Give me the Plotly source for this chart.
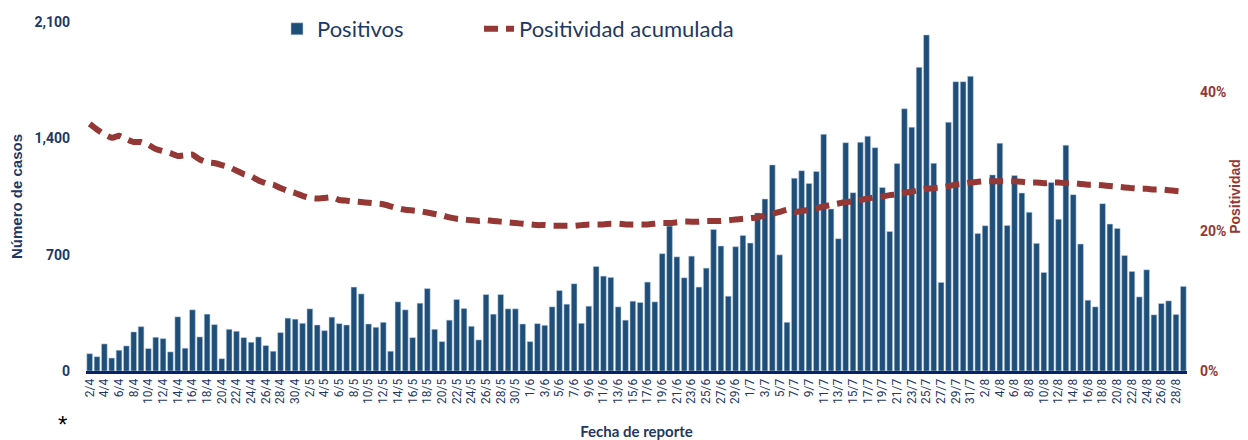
import pandas as pd
import plotly.graph_objects as go

# Dates (2/4 .. 29/8), daily
fechas = [f"{d.day}/{d.month}" for d in pd.date_range("2020-04-02", "2020-08-29", freq="D")]

positivos = [
    104, 86, 163, 78, 125, 151, 235, 267, 135, 203, 195, 115, 326, 137, 368, 205, 342, 279, 74, 251,
    239, 201, 173, 205, 153, 119, 231, 318, 312, 287, 374, 277, 243, 324, 285, 277, 505, 464,
    283, 263, 293, 119, 416, 368, 201, 408, 496, 251, 177, 306, 430, 376, 269, 187, 460, 342, 460, 374,
    374, 283, 177, 285, 275, 386, 484, 402, 525, 287, 390, 629, 571, 563, 386, 306,
    420, 412, 535, 416, 706, 872, 687, 561, 691, 505, 619, 852, 752, 450, 748, 816,
    770, 951, 1035, 1240, 699, 293, 1160, 1205, 1128, 1200, 1424, 975, 796, 1374, 1073, 1376, 1413, 1344, 1104, 840,
    1248, 1578, 1467, 1827, 2022, 1250, 533, 1497, 1741, 1741, 1773,
    828, 874, 1180, 1371, 876, 1176, 1071, 955, 768, 593, 1134, 913, 1359, 1061, 764, 426, 386, 1007, 884,
    858, 695, 599, 446, 609, 338, 406, 422, 340, 509,
]

positividad_pct = [
    35.4, 34.6, 33.9, 33.4, 33.7, 33.2, 32.8, 32.8, 32.4, 31.8, 31.5, 31.2, 30.8, 30.9, 31.0, 30.3, 29.9, 29.8, 29.5, 29.2,
    28.7, 28.2, 27.9, 27.3, 26.9, 26.7, 26.2, 25.8, 25.5, 25.1, 24.8, 24.7, 24.8, 24.9, 24.5, 24.4, 24.3, 24.2, 24.1, 24.0,
    23.9, 23.6, 23.3, 23.1, 23.0, 22.9, 22.7, 22.5, 22.3, 22.0, 21.8, 21.7, 21.6, 21.5, 21.6, 21.5, 21.4, 21.3, 21.2, 21.1,
    21.0, 20.9, 20.9, 20.8, 20.8, 20.8, 20.8, 20.9, 21.0, 21.0, 21.0, 21.1, 21.1, 21.0, 21.0, 21.0, 21.0, 21.1, 21.2, 21.2,
    21.3, 21.4, 21.4, 21.4, 21.5, 21.5, 21.5, 21.6, 21.7, 21.8, 21.9, 22.0, 22.3, 22.5, 22.8, 23.1, 22.8, 22.9, 23.1, 23.3,
    23.6, 23.8, 24.0, 24.2, 24.3, 24.5, 24.7, 24.9, 25.0, 25.2, 25.3, 25.5, 25.7, 25.9, 26.1, 26.2, 26.3, 26.5, 26.7, 26.8,
    27.0, 27.1, 27.2, 27.2, 27.2, 27.2, 27.2, 27.1, 27.0, 27.0, 26.9, 27.0, 27.0, 26.9, 26.9, 26.8, 26.7, 26.7, 26.6, 26.5,
    26.4, 26.3, 26.2, 26.1, 26.1, 26.0, 26.0, 25.9, 25.8, 25.7,
]
positividad = [v / 100 for v in positividad_pct]

y_ticks = [0, 700, 1400, 2100]
y2_ticks = [0, 0.2, 0.4]

NAVY = "#1F3864"
BAR = "#1F4E79"
RED = "#953735"
TICKFONT = "Liberation Sans Narrow, Arial Narrow, Roboto, sans-serif"

W, H = 1248, 440
ML, MR, MT, MB = 86, 61, 22, 69
PW, PH = W - ML - MR, H - MT - MB

fig = go.Figure()
fig.add_trace(go.Bar(
    x=fechas, y=positivos, name="Positivos", legend="legend",
    marker=dict(color=BAR, line=dict(color="rgba(190,210,230,0.9)", width=0.6)),
))
fig.add_trace(go.Scatter(
    x=fechas, y=positividad, name="Positividad acumulada", yaxis="y2", legend="legend2",
    mode="lines", line=dict(color=RED, width=6, dash="14px,8px", shape="spline", smoothing=0.3),
))

legend_font = dict(family="Lato, Carlito, sans-serif", size=22, color=NAVY)
fig.update_layout(
    width=W, height=H,
    margin=dict(l=ML, r=MR, t=MT, b=MB, autoexpand=False),
    plot_bgcolor="white", paper_bgcolor="white",
    bargap=0.22,
    showlegend=True,
    legend=dict(
        orientation="h", x=(277 - ML) / PW, xanchor="left", y=1 + 14 / PH, yanchor="top",
        font=legend_font, bgcolor="rgba(0,0,0,0)",
    ),
    legend2=dict(
        orientation="h", x=(479 - ML) / PW, xanchor="left", y=1 + 14 / PH, yanchor="top",
        font=legend_font, bgcolor="rgba(0,0,0,0)",
    ),
    xaxis=dict(
        type="category", range=[-0.5, len(fechas) - 0.5], automargin=False,
        tickvals=fechas[::2], ticktext=fechas[::2], tickangle=-90,
        tickfont=dict(family=TICKFONT, size=12, color=NAVY),
        showline=True, linecolor="#0B2265", linewidth=3, ticks="", showgrid=False,
        title=dict(text="Fecha de reporte", font=dict(family="Lato, sans-serif", size=15, color=NAVY, weight="bold"), standoff=24),
    ),
    yaxis=dict(
        range=[0, 2100], tickvals=y_ticks, tickformat=",", showgrid=False, zeroline=False,
        showline=False, ticks="", ticklabelstandoff=15, automargin=False,
        tickfont=dict(family=TICKFONT, size=14, color=NAVY, weight="bold"),
        title=dict(text="Número de casos", font=dict(family="Liberation Sans, Arial, sans-serif", size=15, color=NAVY, weight="bold"), standoff=8),
    ),
    yaxis2=dict(
        overlaying="y", side="right", range=[0, 0.5], tickvals=y2_ticks, tickformat=".0%",
        showgrid=False, zeroline=False, showline=False, ticks="", ticklabelstandoff=12, automargin=False,
        tickfont=dict(family=TICKFONT, size=14, color=RED, weight="bold"),
        title=dict(text="Positividad", font=dict(family="Liberation Sans, Arial, sans-serif", size=14, color=RED, weight="bold"), standoff=4),
    ),
    annotations=[dict(text="*", x=(62 - ML) / PW, y=-(424 - (H - MB)) / PH, xref="paper", yref="paper",
                      showarrow=False, xanchor="center", yanchor="middle",
                      font=dict(size=24, color="black", family="Liberation Sans, sans-serif"))],
)

fig.write_html("out.html", config={"displayModeBar": False},
               post_script="document.body.style.margin='0px';document.body.style.overflow='hidden';")
